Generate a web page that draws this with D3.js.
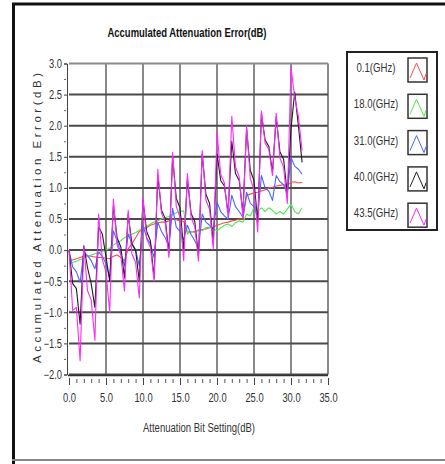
<!DOCTYPE html>
<html><head><meta charset="utf-8">
<script src="https://cdn.jsdelivr.net/npm/d3@7"></script>
<style>
body{margin:0;background:#fff;}
text{font-family:"Liberation Sans","DejaVu Sans",sans-serif;}
</style></head><body>
<svg id="c" width="445" height="464"></svg>
<script>
const title = "Accumulated Attenuation Error(dB)";
const xLabel = "Attenuation Bit Setting(dB)";
const yLabel = "Accumulated Attenuation Error(dB)";
const seriesNames = ["0.1(GHz)","18.0(GHz)","31.0(GHz)","40.0(GHz)","43.5(GHz)"];
const seriesColors = ["#ff4a4a","#4ee84e","#4a64ff","#1e1e1e","#ff28ff"];
const xTicks = [0,5,10,15,20,25,30,35];
const yTicks = [-2,-1.5,-1,-0.5,0,0.5,1,1.5,2,2.5,3];
const attenuation = d3.range(0, 32, 0.5);

const err01 = [-0.15,-0.16,-0.14,-0.12,-0.10,-0.09,-0.10,-0.11,-0.12,-0.12,-0.13,-0.14,-0.10,-0.08,-0.12,-0.17,
  0.02,0.10,0.20,0.30,0.33,0.36,0.40,0.42,0.44,0.45,0.45,0.47,0.50,0.49,0.47,0.46,
  0.29,0.29,0.30,0.31,0.33,0.34,0.36,0.37,0.40,0.42,0.44,0.45,0.47,0.48,0.50,0.50,
  0.88,0.90,0.92,0.93,0.95,0.97,1.00,1.01,1.03,1.04,1.05,1.04,1.09,1.10,1.08,1.09];
const err180 = [-0.22,-0.20,-0.18,-0.15,-0.13,-0.10,-0.08,-0.06,-0.04,-0.02,0.00,0.03,0.08,0.12,0.15,0.20,
  0.23,0.26,0.28,0.32,0.35,0.38,0.42,0.45,0.47,0.50,0.52,0.54,0.57,0.60,0.62,0.63,
  0.26,0.30,0.28,0.33,0.31,0.36,0.37,0.34,0.31,0.36,0.40,0.42,0.38,0.44,0.47,0.45,
  0.58,0.55,0.68,0.63,0.68,0.62,0.68,0.64,0.58,0.62,0.58,0.66,0.74,0.62,0.58,0.68];
const err310 = [0.00,-0.27,-0.35,-0.52, -0.03,-0.09,-0.17,-0.30, -0.03,-0.10,-0.22,-0.45, 0.31,0.15,-0.05,-0.25,
  0.26,0.10,0.00,-0.25, 0.39,0.20,0.10,-0.12, 0.45,0.30,0.20,0.05, 0.67,0.37,0.30,0.17,
  0.40,0.25,0.15,0.02, 0.58,0.45,0.40,0.33, 0.77,0.62,0.55,0.50, 0.88,0.70,0.62,0.53,
  0.93,0.75,0.70,0.53, 1.20,1.00,0.95,0.80, 1.20,1.10,1.05,0.90, 1.49,1.35,1.30,1.22];
const err400 = [0.00,-0.54,-0.62,-1.19, 0.07,-0.28,-0.54,-0.92, 0.37,0.26,-0.11,-0.50, 0.72,0.20,0.05,-0.45,
  0.58,0.10,0.00,-0.50, 0.80,0.30,0.15,-0.45, 1.20,0.64,0.51,-0.05, 1.50,0.83,0.68,0.00,
  1.15,0.59,0.46,-0.10, 1.55,0.90,0.75,0.10, 1.55,1.12,1.03,0.60, 1.75,1.23,1.12,0.60,
  1.95,1.28,1.12,0.45, 2.19,1.77,1.67,1.25, 2.14,1.58,1.46,0.90, 1.95,2.54,2.00,1.41];
const err435 = [0.00,-0.97,-0.92,-1.78, 0.07,-0.65,-0.80,-1.45, 0.58,-0.15,-0.35,-1.00, 0.82,0.08,-0.07,-0.66,
  0.64,-0.06,-0.20,-0.77, 0.85,0.18,0.04,-0.50, 1.30,0.59,0.45,-0.12, 1.57,0.70,0.53,-0.17,
  1.23,0.52,0.38,-0.18, 1.60,0.81,0.65,0.02, 1.90,1.22,1.08,0.53, 2.15,1.34,1.18,0.53,
  2.00,1.15,0.97,0.29, 2.24,1.72,1.62,1.20, 2.20,1.48,1.33,0.75, 2.94,2.45,2.15,1.60];
const seriesValues = [err01, err180, err310, err400, err435];

function condense(sel, f){
  sel.each(function(){
    const n = this.getComputedTextLength();
    d3.select(this).attr("textLength", n*f).attr("lengthAdjust","spacingAndGlyphs");
  });
}

const svg = d3.select("#c");
// outer frame
svg.append("line").attr("x1",13.5).attr("x2",13.5).attr("y1",3).attr("y2",464).attr("stroke","#111").attr("stroke-width",3);
svg.append("line").attr("x1",12).attr("x2",445).attr("y1",4).attr("y2",4).attr("stroke","#111").attr("stroke-width",3);
svg.append("line").attr("x1",12).attr("x2",445).attr("y1",460).attr("y2",460).attr("stroke","#888").attr("stroke-width",2);

const x = d3.scaleLinear().domain([0,35]).range([69,328]);
const y = d3.scaleLinear().domain([-2,3]).range([374.5,63.5]);

// grid
const g = svg.append("g");
g.selectAll(".vg").data(xTicks.slice(1)).enter().append("line")
  .attr("x1",d=>x(d)).attr("x2",d=>x(d)).attr("y1",y(3)).attr("y2",y(-2))
  .attr("stroke", d=>d===35?"#8a8a8a":"#4a4a4a").attr("stroke-width",d=>d===35?2:1.3);
g.selectAll(".hg").data(yTicks).enter().append("line")
  .attr("x1",x(0)).attr("x2",x(35)).attr("y1",d=>y(d)).attr("y2",d=>y(d))
  .attr("stroke", d=>d===3?"#8a8a8a":"#4a4a4a").attr("stroke-width",2);

// series
const line = d3.line().x((d,i)=>x(attenuation[i])).y(d=>y(d));
seriesValues.forEach((vals,si)=>{
  svg.append("path").datum(vals).attr("d",line).attr("fill","none")
    .attr("stroke",seriesColors[si]).attr("stroke-width",1.1).attr("stroke-linejoin","round");
});

// axes
const xAxis = d3.axisBottom(x).tickValues(xTicks).tickFormat(d3.format(".1f")).tickSize(7).tickPadding(8);
const xa = svg.append("g").attr("transform","translate(0,378)").call(xAxis);
xa.select(".domain").remove();
xa.selectAll("line").attr("stroke","#444");
xa.selectAll("text").attr("font-size",12).attr("fill","#333").call(condense,0.78);
const xMinor = svg.append("g").attr("transform","translate(0,379)").call(d3.axisBottom(x).tickValues(d3.range(0,36,1).filter(v=>v%5)).tickSize(4).tickFormat(""));
xMinor.select(".domain").remove(); xMinor.selectAll("line").attr("stroke","#555");
svg.append("line").attr("x1",x(0)-1).attr("x2",x(35)).attr("y1",375.5).attr("y2",375.5).attr("stroke","#333").attr("stroke-width",1.5);

const yAxis = d3.axisLeft(y).tickValues(yTicks).tickFormat(d3.format(".1f")).tickSize(3).tickPadding(2);
const ya = svg.append("g").attr("transform","translate(67,0)").call(yAxis);
ya.select(".domain").attr("stroke","#444");
ya.selectAll("line").attr("stroke","#444");
ya.selectAll("text").attr("font-size",12).attr("fill","#333").call(condense,0.78);
const yMinor = svg.append("g").attr("transform","translate(66,0)").call(d3.axisLeft(y).tickValues(d3.range(-2,3,0.25).filter(v=>Math.abs(v*2-Math.round(v*2))>0.01)).tickSize(2).tickFormat(""));
yMinor.select(".domain").remove(); yMinor.selectAll("line").attr("stroke","#666");

// titles
svg.append("text").attr("x",187).attr("y",37).attr("text-anchor","middle").attr("font-size",13.5).attr("font-weight","bold").attr("fill","#111")
  .attr("textLength",159).attr("lengthAdjust","spacingAndGlyphs").text(title);
svg.append("text").attr("x",199).attr("y",432).attr("text-anchor","middle").attr("font-size",12.5).attr("fill","#333")
  .attr("textLength",112).attr("lengthAdjust","spacingAndGlyphs").text(xLabel);
svg.append("text").attr("transform","translate(41,218) rotate(-90)").attr("text-anchor","middle")
  .attr("font-family","DejaVu Sans").attr("font-size",11.5).attr("fill","#333")
  .attr("textLength",290).attr("lengthAdjust","spacing").text(yLabel);

// legend
const lg = svg.append("g");
lg.append("rect").attr("x",347).attr("y",52).attr("width",90).attr("height",178).attr("fill","#fff").attr("stroke","#222").attr("stroke-width",2);
const items = lg.selectAll(".it").data(seriesNames).enter().append("g").attr("transform",(d,i)=>`translate(0,${i*36.3})`);
items.append("text").attr("x",376).attr("y",72).attr("text-anchor","middle").attr("font-size",12).attr("fill","#333").text(d=>d).call(condense,0.8);
items.append("rect").attr("x",408).attr("y",58).attr("width",19).attr("height",24).attr("fill","#fff").attr("stroke","#333").attr("stroke-width",1.5);
items.append("path").attr("d","M410,78 L416.5,63 L424,80 L426,74").attr("fill","none")
  .attr("stroke",(d,i)=>seriesColors[i]).attr("stroke-width",1);
</script></body></html>
